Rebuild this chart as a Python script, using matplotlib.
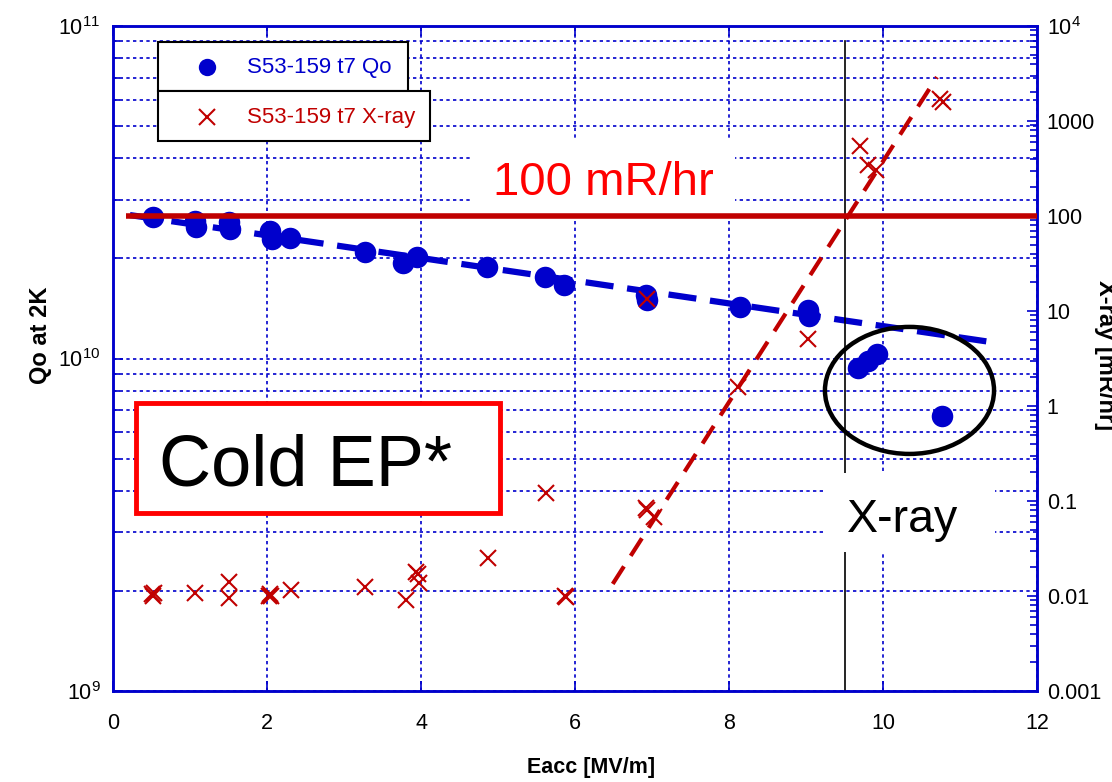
import matplotlib.pyplot as plt
from matplotlib.patches import Rectangle, Ellipse
from matplotlib.ticker import LogLocator, FixedLocator, FixedFormatter, NullFormatter

plt.rcParams['font.family'] = ['Liberation Sans', 'DejaVu Sans']
plt.rcParams['mathtext.fontset'] = 'custom'
plt.rcParams['mathtext.rm'] = 'Liberation Sans'

BLUE = '#0000CC'
RED = '#C00000'
BRIGHT_RED = '#FF0000'

# Qo at 2K vs Eacc (left axis)
qo_eacc = [0.52, 1.07, 1.08, 1.51, 1.52, 2.04, 2.06, 2.30, 3.27, 3.77, 3.95,
           4.86, 5.61, 5.86, 6.92, 6.93, 8.14, 9.03, 9.04, 9.68, 9.81, 9.92, 10.77]
qo_val = [2.665e10, 2.59e10, 2.49e10, 2.57e10, 2.45e10, 2.42e10, 2.29e10, 2.30e10,
          2.09e10, 1.94e10, 2.02e10, 1.88e10, 1.76e10, 1.66e10, 1.55e10, 1.50e10,
          1.43e10, 1.40e10, 1.34e10, 9.36e9, 9.83e9, 1.03e10, 6.72e9]

# X-ray vs Eacc (right axis)
xray_eacc = [0.51, 0.52, 0.53, 1.06, 1.50, 1.51, 2.02, 2.04, 2.05, 2.31, 3.27, 3.80,
             3.94, 3.96, 3.97, 4.87, 5.62, 5.87, 5.88, 6.92, 6.93, 7.03, 6.93, 8.12,
             9.03, 9.70, 9.81, 9.91, 10.74, 10.78]
xray_val = [0.0104, 0.0100, 0.0108, 0.0108, 0.0140, 0.0096, 0.0101, 0.0104, 0.0099,
            0.0115, 0.0124, 0.0091, 0.0177, 0.0171, 0.0136, 0.0251, 0.121, 0.0100,
            0.0097, 0.0843, 0.0800, 0.068, 13.4, 1.58, 5.07, 546, 344, 305, 1700, 1580]

# fit lines and markers
qo_fit_eacc = [0.22, 11.49]
qo_fit_val = [2.70e10, 1.113e10]
xray_fit_eacc = [6.49, 10.70]
xray_fit_val = [0.0134, 2900]
limit_eacc = [0.17, 12]
limit_val = [100, 100]
onset_eacc = [9.5, 9.5]
onset_val = [1e-3, 7e3]

x_ticks = [0, 2, 4, 6, 8, 10, 12]
right_ticks = [1e-3, 1e-2, 1e-1, 1, 10, 100, 1000, 1e4]
right_labels = ['0.001', '0.01', '0.1', '1', '10', '100', '1000', '$10^4$']

W, H = 1112, 782
L, R, T, B = 113, 1037, 26, 691


def frac(px, py):
    # reference pixel -> axes fraction
    return (px - L) / (R - L), (B - py) / (B - T)


def box(ax, x0, y0, x1, y1, **kw):
    fx0, fy0 = frac(x0, y1)
    fx1, fy1 = frac(x1, y0)
    ax.add_patch(Rectangle((fx0, fy0), fx1 - fx0, fy1 - fy0,
                           transform=ax.transAxes, clip_on=False, **kw))


fig = plt.figure(figsize=(W / 100, H / 100), dpi=100)
ax = fig.add_axes([L / W, (H - B) / H, (R - L) / W, (B - T) / H])

ax.set_xlim(0, 12)
ax.set_yscale('log')
ax.set_ylim(1e9, 1e11)
ax.xaxis.set_major_locator(FixedLocator(x_ticks))
ax.yaxis.set_minor_locator(LogLocator(base=10, subs=range(2, 10)))
ax.yaxis.set_minor_formatter(NullFormatter())

grid_kw = dict(color=BLUE, linestyle=(0, (2, 2)), linewidth=1.2)
ax.grid(True, which='both', axis='y', **grid_kw)
ax.grid(True, which='major', axis='x', **grid_kw)

for s in ax.spines.values():
    s.set_color(BLUE)
    s.set_linewidth(1.8)
ax.tick_params(which='both', direction='in', color=BLUE, top=True, right=True,
               labelsize=15.5, labelcolor='black')
ax.tick_params(which='major', length=7, width=1.2)
ax.tick_params(which='minor', length=5, width=1.2)
ax.tick_params(axis='x', pad=16)
ax.tick_params(axis='y', pad=9)

ax.plot(qo_fit_eacc, qo_fit_val, color=BLUE, lw=4.5, dashes=(4.5, 2.2),
        solid_capstyle='butt', zorder=3)
ax.plot(qo_eacc, qo_val, 'o', color=BLUE, ms=15.5, mec='none', zorder=4)

ax2 = ax.twinx()
ax2.set_yscale('log')
ax2.set_ylim(1e-3, 1e4)
ax2.yaxis.set_major_locator(FixedLocator(right_ticks))
ax2.yaxis.set_major_formatter(FixedFormatter(right_labels))
ax2.yaxis.set_minor_locator(LogLocator(base=10, subs=range(2, 10)))
ax2.yaxis.set_minor_formatter(NullFormatter())
for s in ax2.spines.values():
    s.set_color(BLUE)
    s.set_linewidth(1.8)
ax2.tick_params(which='both', direction='in', color=BLUE, labelsize=15.5,
                labelcolor='black', pad=7)
ax2.tick_params(which='major', length=7, width=1.2)
ax2.tick_params(which='minor', length=5, width=1.2)

ax2.plot(onset_eacc, onset_val, color='black', lw=1.2, zorder=2)
ax2.plot(xray_fit_eacc, xray_fit_val, color=RED, lw=3, dashes=(5, 3),
         solid_capstyle='butt', zorder=3)
ax2.plot(xray_eacc, xray_val, 'x', color=RED, ms=12, mew=1.5, zorder=4)
ax2.plot(limit_eacc, limit_val, color=RED, lw=4, solid_capstyle='butt', zorder=6)

# circled low-Q points
ax2.add_patch(Ellipse((0.862, 0.452), 0.183, 0.191, transform=ax2.transAxes,
                      fill=False, ec='black', lw=3.2, zorder=5))

# "100 mR/hr" label
box(ax2, 471, 140, 735, 214, fc='white', ec='none', zorder=5)
ax2.text(*frac(493, 195), '100 mR/hr', transform=ax2.transAxes, fontsize=34,
         color=BRIGHT_RED, va='baseline', ha='left', zorder=7)

# "X-ray" label
box(ax2, 826, 473, 995, 552, fc='white', ec='none', zorder=5)
ax2.text(*frac(847, 532), 'X-ray', transform=ax2.transAxes, fontsize=33.5,
         color='black', va='baseline', ha='left', zorder=7)

# "Cold EP*" label
box(ax2, 136, 403, 500, 513, fc='white', ec=BRIGHT_RED, lw=3.5, zorder=5)
ax2.text(*frac(159, 485), 'Cold EP*', transform=ax2.transAxes, fontsize=52,
         color='black', va='baseline', ha='left', zorder=7)

# legend, drawn as two stacked boxes
box(ax2, 158, 42, 408, 91, fc='white', ec='black', lw=1.5, zorder=5)
box(ax2, 158, 91, 430, 141, fc='white', ec='black', lw=1.5, zorder=5)
ax2.plot(*frac(207, 67), 'o', color=BLUE, ms=12.5, mec='none',
         transform=ax2.transAxes, zorder=7, clip_on=False)
ax2.text(*frac(247, 68), 'S53-159 t7 Qo', transform=ax2.transAxes, fontsize=16,
         color=BLUE, va='center', ha='left', zorder=7)
ax2.plot(*frac(207, 117), 'x', color=RED, ms=12, mew=1.5,
         transform=ax2.transAxes, zorder=7, clip_on=False)
ax2.text(*frac(247, 118), 'S53-159 t7 X-ray', transform=ax2.transAxes, fontsize=16,
         color=RED, va='center', ha='left', zorder=7)

# axis titles (the right one runs off the edge, as in the original)
fig.text(591 / W, 1 - 768 / H, 'Eacc [MV/m]', fontsize=15.5, fontweight='bold',
         ha='center', va='center')
fig.text(40 / W, 1 - 335 / H, 'Qo at 2K', fontsize=17, fontweight='bold',
         rotation=90, ha='center', va='center')
fig.text(1106 / W, 1 - 355 / H, 'X-ray [mR/hr]', fontsize=17, fontweight='bold',
         rotation=-90, ha='center', va='center')

fig.savefig('out.png', dpi=100)
